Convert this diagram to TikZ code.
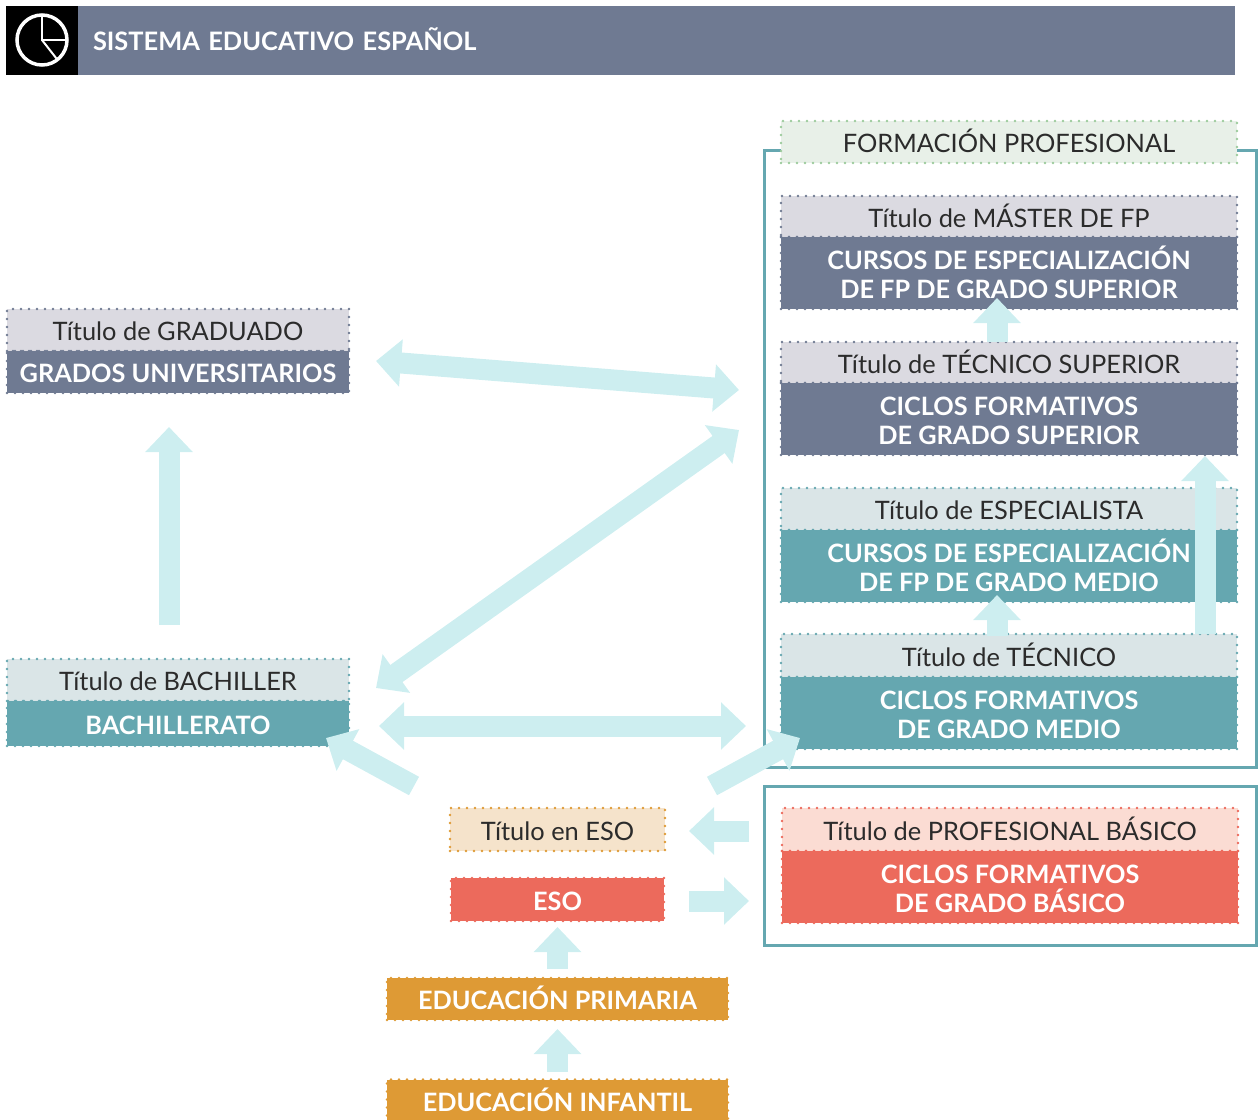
\documentclass[tikz,border=0pt]{standalone}
\usepackage{fontspec}
\setmainfont{Lato}
\usetikzlibrary{positioning,arrows.meta}
\definecolor{pizarra}{HTML}{6F7A92}
\definecolor{grisclaro}{HTML}{DBDAE1}
\definecolor{verdeazul}{HTML}{65A7B0}
\definecolor{verdeclaro}{HTML}{DAE5E7}
\definecolor{rojo}{HTML}{EC6A5C}
\definecolor{rojoclaro}{HTML}{FBDCD3}
\definecolor{naranja}{HTML}{DE9A35}
\definecolor{naranjaclaro}{HTML}{F5E3CB}
\definecolor{menta}{HTML}{E8F0E8}
\definecolor{mentaborde}{HTML}{9CCB9C}
\definecolor{flujo}{HTML}{CDEEF0}
\definecolor{texto}{HTML}{2B2B2B}
\begin{document}
\begin{tikzpicture}[x=1pt, y=-1pt, outer sep=0pt, inner sep=0pt,
	punteado/.style={line width=2.7pt, line cap=round, dash pattern=on 0pt off 8pt},
	titulo/.style n args={3}{draw=#2, fill=#1, punteado, text=texto, minimum width=#3, minimum height=42pt, text height=21pt, text depth=0pt, font=\fontsize{25.4}{29.5}\selectfont},
	curso/.style n args={3}{draw=#1, fill=#1, punteado, text=white, minimum width=#2, minimum height=#3, text height=21pt, text depth=0pt, align=center, font=\fontsize{25.3}{29.5}\selectfont\bfseries},
	doslineas/.style={text height=52pt, text depth=1pt},
	marco/.style={draw=verdeazul, line width=3pt, minimum width=492pt},
	flecha/.style={draw=flujo, line width=21pt, -{Triangle[length=25pt,width=46pt]}},
	doble/.style={draw=flujo, line width=21pt, {Triangle[length=25pt,width=46pt]}-{Triangle[length=25pt,width=46pt]}}]
	\useasboundingbox (0,0) rectangle (1260,1119);

	\node (negro) [fill=black, minimum width=72pt, minimum height=69pt] at (42,40.5) {};
	\node (banda) [fill=pizarra, minimum width=1157pt, minimum height=69pt, right=0pt of negro, text=white, font=\fontsize{25.4}{29}\selectfont\bfseries, text width=1127pt, text height=20pt, text depth=0pt] {SISTEMA EDUCATIVO ESPAÑOL};
	\node (reloj) [draw=white, circle, line width=3.5pt, minimum size=50pt] at (42,40) {};
	\draw[white, line width=2pt] (reloj.north) -- (reloj.center) -- (reloj.east);
	\draw[white, line width=2pt] (reloj.center) -- (reloj.-52);

	\node (marcofp) [marco, minimum height=617pt] at (1010,458.5) {};
	\node (marcobasico) [marco, minimum height=159pt] at (1010,865.5) {};

	\node[titulo={menta}{mentaborde}{456pt}] (fp) at (1009,142) {FORMACIÓN PROFESIONAL};
	\node[titulo={grisclaro}{pizarra}{456pt}, minimum height=41pt] (master) [below=33pt of fp] {Título de MÁSTER DE FP};
	\node[curso={pizarra}{456pt}{72pt}, doslineas] (cursosup) [below=0pt of master] {CURSOS DE ESPECIALIZACIÓN\\DE FP DE GRADO SUPERIOR};
	\node[titulo={grisclaro}{pizarra}{456pt}, minimum height=41pt] (tecsup) [below=33pt of cursosup] {Título de TÉCNICO SUPERIOR};
	\node[curso={pizarra}{456pt}{72pt}, doslineas] (ciclosup) [below=0pt of tecsup] {CICLOS FORMATIVOS\\DE GRADO SUPERIOR};
	\node[titulo={verdeclaro}{verdeazul}{456pt}] (especialista) [below=33pt of ciclosup] {Título de ESPECIALISTA};
	\node[curso={verdeazul}{456pt}{72pt}, doslineas] (cursomedio) [below=0pt of especialista] {CURSOS DE ESPECIALIZACIÓN\\DE FP DE GRADO MEDIO};
	\node[titulo={verdeclaro}{verdeazul}{456pt}, minimum height=43pt] (tecnico) [below=32pt of cursomedio] {Título de TÉCNICO};
	\node[curso={verdeazul}{456pt}{72pt}, doslineas] (ciclomedio) [below=0pt of tecnico] {CICLOS FORMATIVOS\\DE GRADO MEDIO};

	\node[titulo={rojoclaro}{rojo}{456pt}, minimum height=43pt] (basico) at (1010,829.5) {Título de PROFESIONAL BÁSICO};
	\node[curso={rojo}{456pt}{72pt}, doslineas] (ciclobasico) [below=0pt of basico] {CICLOS FORMATIVOS\\DE GRADO BÁSICO};

	\node[titulo={grisclaro}{pizarra}{342pt}] (graduado) at (178,330) {Título de GRADUADO};
	\node[curso={pizarra}{342pt}{42pt}] (grados) [below=0pt of graduado] {GRADOS UNIVERSITARIOS};
	\node[titulo={verdeclaro}{verdeazul}{342pt}] (bachiller) at (178,680) {Título de BACHILLER};
	\node[curso={verdeazul}{342pt}{45pt}] (bachillerato) [below=0pt of bachiller] {BACHILLERATO};

	\node[titulo={naranjaclaro}{naranja}{215pt}, minimum height=43pt] (tituloeso) at (557.5,829.5) {Título en ESO};
	\node[curso={rojo}{213pt}{43pt}] (eso) at (557.5,899.5) {ESO};
	\node[curso={naranja}{341pt}{42pt}] (primaria) at (557.5,999) {EDUCACIÓN PRIMARIA};
	\node[curso={naranja}{341pt}{42pt}] (infantil) at (557.5,1100.5) {EDUCACIÓN INFANTIL};

	\draw[flecha] ([xshift=-9pt,yshift=34pt]bachiller.north) to ([xshift=-9pt,yshift=-34pt]grados.south);
	\draw[doble] ([xshift=27pt,yshift=11pt]grados.east) to ([xshift=-42pt,yshift=29pt]ciclosup.west);
	\draw[doble] ([xshift=27pt,yshift=-8pt]bachiller.east) to ([xshift=-42pt,yshift=-11pt]ciclosup.west);
	\draw[doble] ([xshift=30pt,yshift=-2.5pt]bachillerato.east) to ([xshift=-35pt,yshift=-13pt]ciclomedio.west);
	\draw[flecha] ([xshift=-36pt,yshift=22pt]tituloeso.north west) to ([xshift=-23pt,yshift=8pt]bachillerato.south east);
	\draw[flecha] ([xshift=47pt,yshift=22pt]tituloeso.north east) to ([xshift=19pt,yshift=11pt]ciclomedio.south west);
	\draw[flecha] ([xshift=-33pt,yshift=-1.5pt]basico.west) to ([xshift=24pt,yshift=-1.5pt]tituloeso.east);
	\draw[flecha] ([xshift=25pt,yshift=-1.5pt]eso.east) to ([xshift=-33pt,yshift=-14pt]ciclobasico.west);
	\draw[flecha] ([yshift=9pt]primaria.north) to ([yshift=-6pt]eso.south);
	\draw[flecha] ([yshift=8pt]infantil.north) to ([yshift=-9pt]primaria.south);
	\draw[flecha] ([xshift=-12pt]tecsup.north) to ([xshift=-12pt,yshift=11pt]cursosup.south);
	\draw[flecha] ([xshift=-12pt,yshift=-2pt]tecnico.north) to ([xshift=-12pt,yshift=7pt]cursomedio.south);
	\draw[flecha] ([xshift=196pt]tecnico.north) to ([xshift=196pt,yshift=-1pt]ciclosup.south);
\end{tikzpicture}
\end{document}
